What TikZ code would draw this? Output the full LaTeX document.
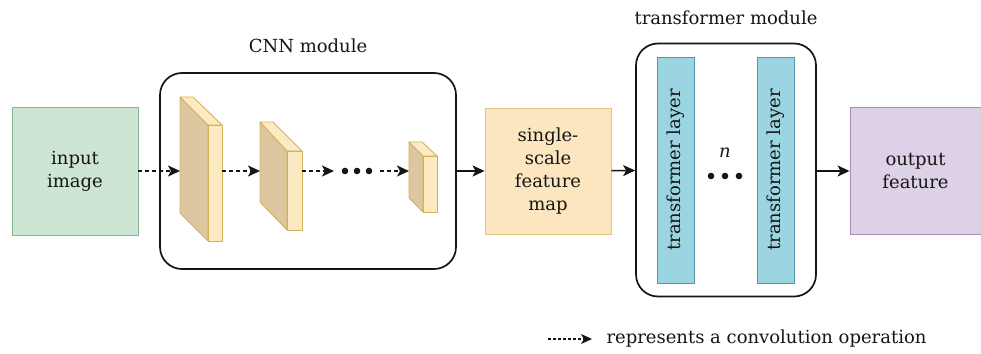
\documentclass[tikz,border=0pt]{standalone}
\usepackage{fontspec}
\setmainfont{DejaVu Serif}
\usetikzlibrary{arrows.meta}
\definecolor{gfill}{HTML}{CDE6D4}
\definecolor{gline}{HTML}{86B594}
\definecolor{yfill}{HTML}{FBE6BF}
\definecolor{yline}{HTML}{E3C27F}
\definecolor{sidef}{HTML}{DCC7A0}
\definecolor{frontf}{HTML}{FCEBC2}
\definecolor{bline}{HTML}{D2B259}
\definecolor{cfill}{HTML}{9CD5E2}
\definecolor{cline}{HTML}{4F97AE}
\definecolor{pfill}{HTML}{DDD1E7}
\definecolor{pline}{HTML}{A38CB6}
\definecolor{ink}{HTML}{151515}
\tikzset{
  txt/.style={font=\fontsize{18}{23}\selectfont, text=ink, align=center},
  flatbox/.style={txt, draw, line width=0.9pt, inner sep=0pt},
  modbox/.style={draw=ink, line width=1.7pt, rounded corners=22pt, inner sep=0pt},
  solidarrow/.style={draw=ink, line width=1.5pt, -{Stealth[length=12pt,width=11pt,inset=3pt]}},
  dasharrow/.style={draw=ink, line width=1.5pt, dash pattern=on 4pt off 3pt, -{Stealth[length=12pt,width=11pt,inset=3pt]}},
  legarrow/.style={draw=ink, line width=1.2pt, dash pattern=on 2.5pt off 2.5pt, -{Stealth[length=11pt,width=10pt,inset=3pt]}},
  layerbox/.style={txt, draw=cline, fill=cfill, line width=0.9pt, rotate=90, minimum width=226pt, minimum height=37pt, inner sep=0pt},
  blockline/.style={draw=bline, line width=0.9pt, line join=round},
}
\begin{document}
\begin{tikzpicture}[x=1pt,y=-1pt]
\useasboundingbox (0,0) rectangle (981,353);

% input image
\node[flatbox, draw=gline, fill=gfill, minimum width=126pt, minimum height=128pt] (input) at (75,171) {input\\image};

% CNN module
\node[modbox, minimum width=296pt, minimum height=196pt] (cnn) at (308,171) {};
\node[txt] (cnntitle) at (308,46) {CNN module};

% blocks
\filldraw[blockline, fill=sidef] (180,97) -- (208,125) -- (208,241) -- (180,213) -- cycle;
\filldraw[blockline, fill=frontf] (180,97) -- (193,97) -- (222,125) -- (208,125) -- cycle;
\filldraw[blockline, fill=frontf] (208,125) rectangle (222,241);

\filldraw[blockline, fill=sidef] (260,122) -- (287,151) -- (287,230) -- (260,202) -- cycle;
\filldraw[blockline, fill=frontf] (260,122) -- (273,122) -- (302,151) -- (287,151) -- cycle;
\filldraw[blockline, fill=frontf] (287,151) rectangle (302,230);

\filldraw[blockline, fill=sidef] (409,142) -- (423,156) -- (423,212) -- (409,198) -- cycle;
\filldraw[blockline, fill=frontf] (409,142) -- (422,142) -- (437,156) -- (423,156) -- cycle;
\filldraw[blockline, fill=frontf] (423,156) rectangle (437,212);

\coordinate (b1l) at (180,171);
\coordinate (b1r) at (222,171);
\coordinate (b2l) at (260,171);
\coordinate (b2r) at (302,171);
\coordinate (d1) at (334,171);
\coordinate (d2) at (380,171);
\coordinate (b3l) at (409,171);

\draw[dasharrow] (input) -- (b1l);
\draw[dasharrow] (b1r) -- (b2l);
\draw[dasharrow] (b2r) -- (d1);
\draw[dasharrow] (d2) -- (b3l);
\foreach \x in {345,357,369} \fill[ink] (\x,171) circle (3.3pt);

% single-scale feature map
\node[flatbox, draw=yline, fill=yfill, minimum width=126pt, minimum height=126pt] (single) at (548,171) {single-\\scale\\feature\\map};
\draw[solidarrow] (cnn) -- (single);

% transformer module
\node[modbox, minimum width=180pt, minimum height=253pt] (trans) at (726,170) {};
\node[txt] (transtitle) at (726,18) {transformer module};
\node[layerbox] (layer1) at (675.5,170) {transformer layer};
\node[layerbox] (layer2) at (776,170) {transformer layer};
\node[txt] (nlabel) at (725,153) {\textit{n}};
\foreach \x in {711,725,739} \fill[ink] (\x,176) circle (3.3pt);
\draw[solidarrow] (single) -- (trans);

% output feature
\node[flatbox, draw=pline, fill=pfill, minimum width=131pt, minimum height=127pt] (output) at (915.5,171) {output\\feature};
\draw[solidarrow] (trans.east |- output) -- (output);

% legend
\coordinate (legA) at (548,339);
\coordinate (legB) at (592,339);
\draw[legarrow] (legA) -- (legB);
\node[txt, anchor=west] (legtext) at (603,339) {represents a convolution operation};
\end{tikzpicture}
\end{document}
